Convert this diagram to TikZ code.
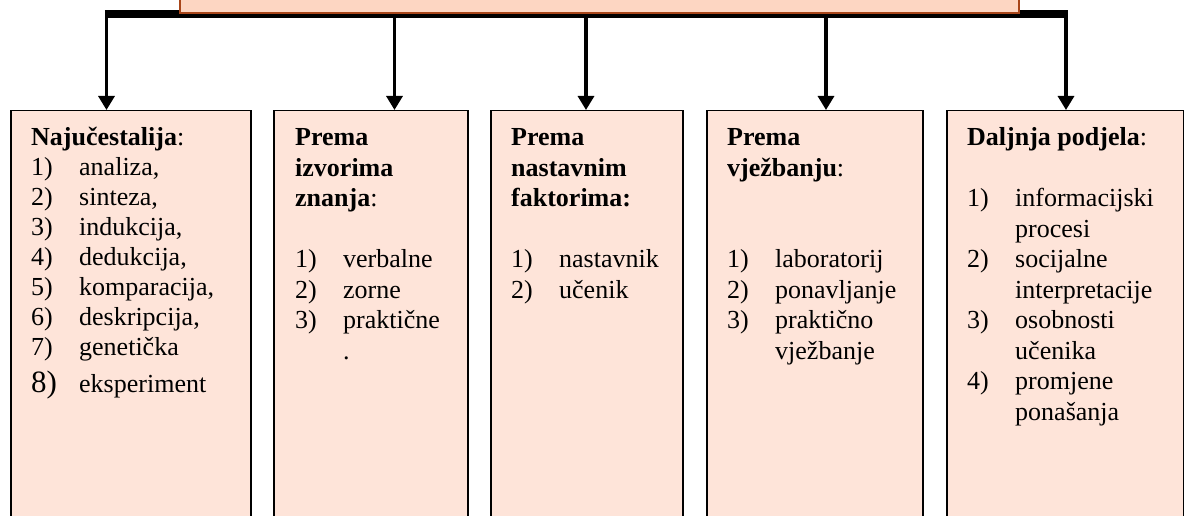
\documentclass[tikz,border=0pt]{standalone}
\usepackage{fontspec}
\setmainfont{Liberation Serif}
\usepackage{tikz}
\usetikzlibrary{arrows.meta}
\definecolor{vrhboja}{RGB}{253,214,194}
\definecolor{rubboja}{RGB}{168,70,26}
\definecolor{kutboja}{RGB}{254,228,217}
\newcommand{\stavka}[2]{\makebox[48pt][l]{#1)}#2}
\newcommand{\nastavak}[1]{\hspace*{48pt}#1}

\begin{document}
\begin{tikzpicture}[x=1pt,y=-1pt,
  kutija/.style={draw=black, line width=1.5pt, fill=kutboja, anchor=north west, minimum height=420pt, inner sep=0pt},
  tekst/.style={anchor=north west, inner sep=0pt, align=left, font=\fontsize{26}{30.5}\selectfont},
  strelica/.style={line width=3.2pt, -{Triangle[width=16pt,length=14pt]}},
  traka/.style={line width=8pt}]
\useasboundingbox (0,0) rectangle (1184,516);

\coordinate (k1) at (106.5,14);
\coordinate (k2) at (394.5,14);
\coordinate (k3) at (586,14);
\coordinate (k4) at (826,14);
\coordinate (k5) at (1066,14);
\draw[traka] ([xshift=-1.6pt]k1) -- ([xshift=1.6pt]k5);
\node[draw=rubboja, line width=1.5pt, fill=vrhboja, anchor=south west, minimum width=839pt, minimum height=40pt] (vrh) at (179,14) {};

\node[kutija, minimum width=240pt] (b1) at (10,110) {};
\node[kutija, minimum width=194pt] (b2) at (273,110) {};
\node[kutija, minimum width=192pt] (b3) at (490,110) {};
\node[kutija, minimum width=216pt] (b4) at (706,110) {};
\node[kutija, minimum width=237pt] (b5) at (946,110) {};

\draw[strelica] (k1) -- (k1 |- b1.north);
\draw[strelica] (k2) -- (k2 |- b2.north);
\draw[strelica] (k3) -- (k3 |- b3.north);
\draw[strelica] (k4) -- (k4 |- b4.north);
\draw[strelica] (k5) -- (k5 |- b5.north);

\node[tekst, font=\fontsize{26}{30}\selectfont] (t1) at ([shift={(21,14.5)}]b1.north west)
  {\strut\textbf{Najučestalija}:\\
   \stavka{1}{analiza,}\\
   \stavka{2}{sinteza,}\\
   \stavka{3}{indukcija,}\\
   \stavka{4}{dedukcija,}\\
   \stavka{5}{komparacija,}\\
   \stavka{6}{deskripcija,}\\
   \stavka{7}{genetička}\\[7pt]
   \makebox[48pt][l]{\fontsize{31}{37}\selectfont 8)}eksperiment};
\node[tekst] (t2) at ([shift={(22,14.2)}]b2.north west)
  {\strut\textbf{Prema}\\
   \textbf{izvorima}\\
   \textbf{znanja}:\\
   \strut\\
   \stavka{1}{verbalne}\\
   \stavka{2}{zorne}\\
   \stavka{3}{praktične}\\
   \nastavak{.}};
\node[tekst] (t3) at ([shift={(21,14.2)}]b3.north west)
  {\strut\textbf{Prema}\\
   \textbf{nastavnim}\\
   \textbf{faktorima:}\\
   \strut\\
   \stavka{1}{nastavnik}\\
   \stavka{2}{učenik}};
\node[tekst] (t4) at ([shift={(21,14.2)}]b4.north west)
  {\strut\textbf{Prema}\\
   \textbf{vježbanju}:\\
   \strut\\
   \strut\\
   \stavka{1}{laboratorij}\\
   \stavka{2}{ponavljanje}\\
   \stavka{3}{praktično}\\
   \nastavak{vježbanje}};
\node[tekst] (t5) at ([shift={(21,14.2)}]b5.north west)
  {\strut\textbf{Daljnja podjela}:\\
   \strut\\
   \stavka{1}{informacijski}\\
   \nastavak{procesi}\\
   \stavka{2}{socijalne}\\
   \nastavak{interpretacije}\\
   \stavka{3}{osobnosti}\\
   \nastavak{učenika}\\
   \stavka{4}{promjene}\\
   \nastavak{ponašanja}};
\end{tikzpicture}
\end{document}
